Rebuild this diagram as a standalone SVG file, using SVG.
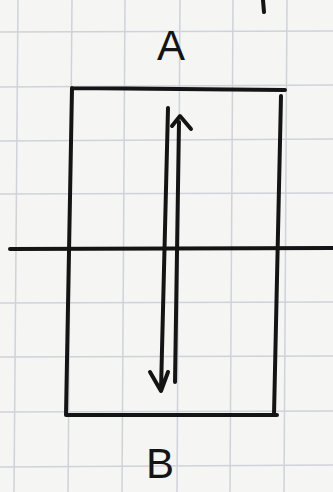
<svg xmlns="http://www.w3.org/2000/svg" width="333" height="492" viewBox="0 0 333 492">
<style>
.grid{stroke:#cfd2d8;stroke-width:1.5}
.ink{stroke:#141414;stroke-width:4;fill:none;stroke-linecap:round;stroke-linejoin:round}
.lbl{font-family:"Liberation Sans",sans-serif;font-size:42px;fill:#141414;text-anchor:middle}
</style>
<rect width="333" height="492" fill="#f5f5f3"/>
<g id="grid">
<line class="grid" x1="18" y1="0" x2="14" y2="492"/>
<line class="grid" x1="72" y1="0" x2="68" y2="492"/>
<line class="grid" x1="125" y1="0" x2="122" y2="492"/>
<line class="grid" x1="180" y1="0" x2="177" y2="492"/>
<line class="grid" x1="233" y1="0" x2="230" y2="492"/>
<line class="grid" x1="287" y1="0" x2="284" y2="492"/>
<line class="grid" x1="0" y1="32" x2="333" y2="31"/>
<line class="grid" x1="0" y1="87" x2="333" y2="85"/>
<line class="grid" x1="0" y1="141" x2="333" y2="139"/>
<line class="grid" x1="0" y1="194" x2="333" y2="193"/>
<line class="grid" x1="0" y1="303" x2="333" y2="302"/>
<line class="grid" x1="0" y1="357" x2="333" y2="356"/>
<line class="grid" x1="0" y1="412" x2="333" y2="411"/>
<line class="grid" x1="0" y1="467" x2="333" y2="465"/>
</g>
<g id="box">
<path class="ink" d="M72,88 L285,90 M72,88 L66,415 L277,415 M281,96 L274,415"/>
</g>
<g id="axis">
<line class="ink" x1="10" y1="249" x2="333" y2="248"/>
</g>
<g id="connectors">
<path class="ink" d="M168,108 L161,390 M150,372 L161,391 L168,372"/>
<path class="ink" d="M179,122 L175,382 M172,126 L180,116 L191,129"/>
</g>
<g id="tick">
<line class="ink" x1="263" y1="0" x2="264" y2="12"/>
</g>
<g id="label-A"><text class="lbl" x="171" y="60">A</text></g>
<g id="label-B"><text class="lbl" x="160" y="478" font-size="38">B</text></g>
</svg>
